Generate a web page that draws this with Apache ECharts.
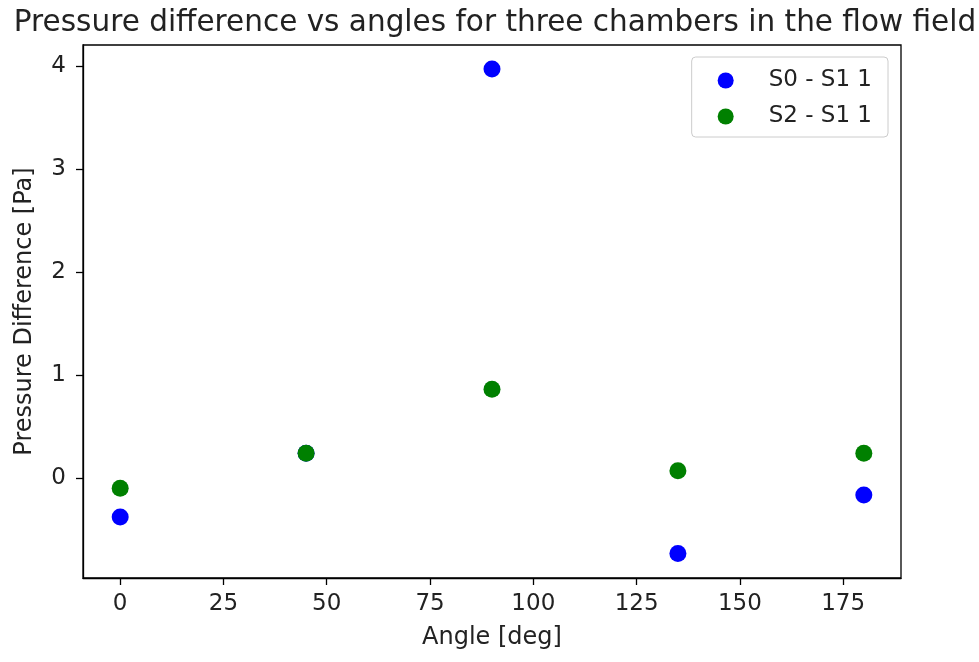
<!DOCTYPE html>
<html>
<head>
<meta charset="utf-8">
<script src="https://cdn.jsdelivr.net/npm/echarts@6/dist/echarts.min.js"></script>
<style>html,body{margin:0;padding:0;background:#fff}#c{width:979px;height:662px}</style>
</head>
<body>
<div id="c"></div>
<script>
const angles = [0, 45, 90, 135, 180];
const s0s1 = [-0.38, 0.24, 3.97, -0.735, -0.165];
const s2s1 = [-0.10, 0.24, 0.86, 0.07, 0.24];
const xTicks = [0, 25, 50, 75, 100, 125, 150, 175];
const yTicks = [0, 1, 2, 3, 4];
const seriesNames = ['S0 - S1 1', 'S2 - S1 1'];

const font = 'DejaVu Sans';
const fs = 23;
const chart = echarts.init(document.getElementById('c'), null, {renderer: 'canvas'});
const axisCommon = {
  axisLine: {show: true, onZero: false, lineStyle: {color: '#000', width: 1.3}},
  axisTick: {show: true, inside: false, length: 7, lineStyle: {color: '#000', width: 1.3}},
  splitLine: {show: false},
  axisLabel: {color: '#222', fontFamily: font, fontSize: fs},
  nameTextStyle: {color: '#222', fontFamily: font, fontSize: 24}
};
chart.setOption({
  animation: false,
  backgroundColor: '#fff',
  title: {
    text: 'Pressure difference vs angles for three chambers in the flow field',
    left: 490, textAlign: 'center', top: 3,
    textStyle: {fontFamily: font, fontSize: 29.5, fontWeight: 'normal', color: '#222'}
  },
  grid: {left: 83, right: 78, top: 45, bottom: 84, show: true, borderColor: '#000', borderWidth: 1.3, backgroundColor: '#fff'},
  legend: {
    orient: 'vertical', right: 91, top: 57,
    data: seriesNames,
    icon: 'circle', itemWidth: 16, itemHeight: 16, itemGap: 13,
    padding: [12, 16, 9, 26],
    borderColor: '#ccc', borderWidth: 1, borderRadius: 4, backgroundColor: 'rgba(255,255,255,0.8)',
    textStyle: {fontFamily: font, fontSize: fs, color: '#222', padding: [0, 0, 0, 30]}
  },
  xAxis: Object.assign({}, axisCommon, {
    type: 'value', min: -9, max: 189,
    name: 'Angle [deg]', nameLocation: 'middle', nameGap: 48,
    axisTick: Object.assign({}, axisCommon.axisTick, {customValues: xTicks}),
    axisLabel: Object.assign({}, axisCommon.axisLabel, {customValues: xTicks, margin: 15})
  }),
  yAxis: Object.assign({}, axisCommon, {
    type: 'value', min: -0.972, max: 4.204,
    name: 'Pressure Difference [Pa]', nameLocation: 'middle', nameGap: 46,
    axisTick: Object.assign({}, axisCommon.axisTick, {customValues: yTicks}),
    axisLabel: Object.assign({}, axisCommon.axisLabel, {customValues: yTicks, margin: 17})
  }),
  series: [
    {name: seriesNames[0], type: 'scatter', symbolSize: 17, itemStyle: {color: '#0000ff', opacity: 1},
     data: angles.map((a, i) => [a, s0s1[i]])},
    {name: seriesNames[1], type: 'scatter', symbolSize: 17, itemStyle: {color: '#008000', opacity: 1},
     data: angles.map((a, i) => [a, s2s1[i]])}
  ]
});
</script>
</body>
</html>
